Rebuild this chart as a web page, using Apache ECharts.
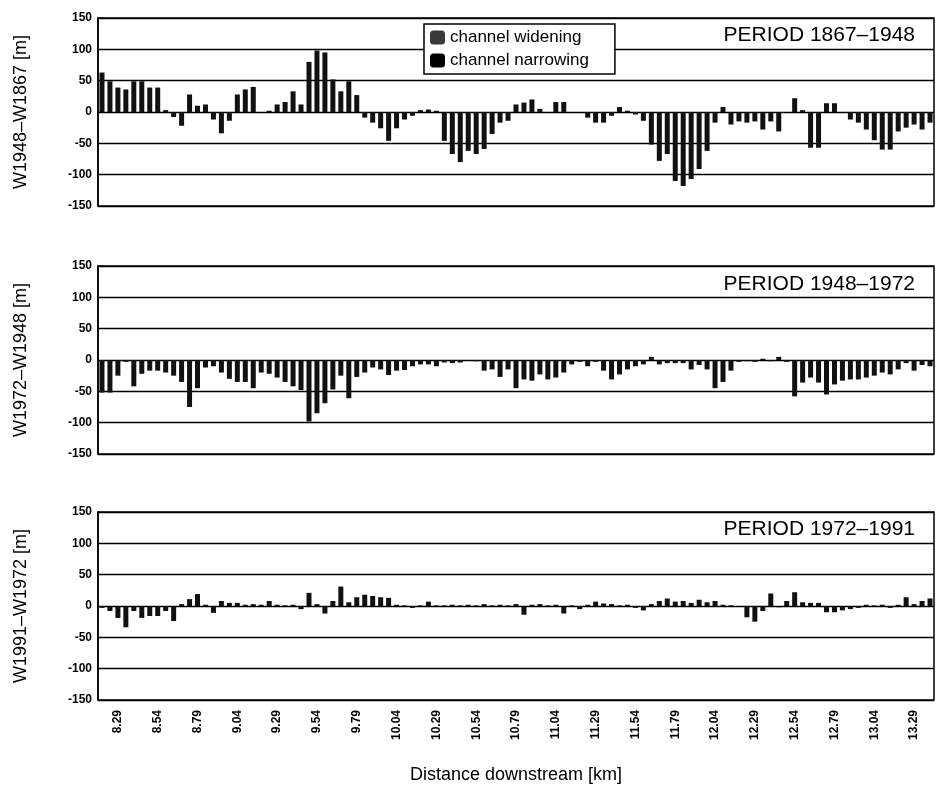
<!DOCTYPE html>
<html>
<head>
<meta charset="utf-8">
<script src="https://cdn.jsdelivr.net/npm/echarts@6/dist/echarts.min.js"></script>
<style>
html,body{margin:0;padding:0;background:#fff;}
#chart{width:940px;height:793px;}
</style>
</head>
<body>
<div id="chart"></div>
<script>
// Distance downstream [km], one bar every 0.05 km
const categories = ['8.19','8.24','8.29','8.34','8.39','8.44','8.49','8.54','8.59','8.64','8.69','8.74','8.79','8.84','8.89','8.94','8.99','9.04','9.09','9.14','9.19','9.24','9.29','9.34','9.39','9.44','9.49','9.54','9.59','9.64','9.69','9.74','9.79','9.84','9.89','9.94','9.99','10.04','10.09','10.14','10.19','10.24','10.29','10.34','10.39','10.44','10.49','10.54','10.59','10.64','10.69','10.74','10.79','10.84','10.89','10.94','10.99','11.04','11.09','11.14','11.19','11.24','11.29','11.34','11.39','11.44','11.49','11.54','11.59','11.64','11.69','11.74','11.79','11.84','11.89','11.94','11.99','12.04','12.09','12.14','12.19','12.24','12.29','12.34','12.39','12.44','12.49','12.54','12.59','12.64','12.69','12.74','12.79','12.84','12.89','12.94','12.99','13.04','13.09','13.14','13.19','13.24','13.29','13.34','13.39'];
const xTickLabels = ['8.29','8.54','8.79','9.04','9.29','9.54','9.79','10.04','10.29','10.54','10.79','11.04','11.29','11.54','11.79','12.04','12.29','12.54','12.79','13.04','13.29'];
const yTicks = [-150,-100,-50,0,50,100,150];

// W1948 - W1867 [m]
const diff1867_1948 = [63,49,39,36,49,49,39,39,3,-8,-22,28,10,12,-12,-34,-14,28,36,40,0,2,12,16,33,12,80,98,95,52,33,49,27,-9,-17,-26,-46,-26,-12,-6,3,4,2,-46,-67,-80,-62,-67,-59,-35,-17,-14,12,15,20,5,0,16,16,0,0,-9,-17,-17,-6,8,2,-4,-14,-52,-78,-67,-110,-118,-107,-91,-62,-17,8,-20,-15,-17,-15,-28,-15,-31,0,22,3,-57,-57,14,14,0,-12,-17,-28,-45,-60,-60,-31,-25,-20,-28,-17];
// W1972 - W1948 [m]
const diff1948_1972 = [-52,-52,-25,-3,-42,-22,-17,-17,-20,-25,-35,-75,-45,-12,-10,-20,-30,-35,-35,-45,-20,-22,-28,-35,-42,-48,-98,-85,-69,-47,-25,-61,-27,-20,-12,-15,-24,-17,-16,-10,-7,-7,-10,-4,-5,-4,-1,-2,-17,-15,-27,-15,-45,-31,-33,-23,-31,-28,-20,-7,-3,-10,-3,-17,-31,-23,-15,-10,-7,5,-7,-5,-5,-5,-15,-8,-15,-45,-35,-17,-3,-2,-3,2,-2,5,-3,-58,-36,-28,-36,-55,-39,-33,-31,-31,-28,-25,-20,-23,-15,-5,-17,-8,-10];
// W1991 - W1972 [m]
const diff1972_1991 = [-3,-8,-19,-34,-8,-19,-16,-16,-8,-24,3,11,19,2,-11,8,5,5,2,3,2,8,2,1,2,-5,21,3,-12,8,31,6,14,18,16,14,13,2,1,-3,1,7,1,1,2,1,2,1,3,1,2,1,3,-14,2,3,1,2,-12,1,-5,2,7,4,3,1,2,-3,-7,3,8,12,7,8,5,10,6,8,2,1,0,-18,-25,-8,20,-2,8,22,6,5,5,-10,-10,-7,-5,-3,2,1,2,-3,2,14,3,8,12];

const panelTitles = ['PERIOD 1867\u20131948','PERIOD 1948\u20131972','PERIOD 1972\u20131991'];
const yNames = ['W1948\u2013W1867 [m]','W1972\u2013W1948 [m]','W1991\u2013W1972 [m]'];
const seriesNames = ['channel widening','channel narrowing'];
const xName = 'Distance downstream [km]';

const panels = [diff1867_1948, diff1948_1972, diff1972_1991];
const FONT = 'Liberation Sans, Arial, Helvetica, sans-serif';
const gridTops = [18, 266, 512];
const gridH = 188;
const titleTops = [20, 269, 514];

const option = {
  backgroundColor: '#fff',
  animation: false,
  textStyle: {fontFamily: FONT, color: '#000'},
  title: panelTitles.map((t, i) => ({
    text: t, right: 20, top: titleTops[i],
    textStyle: {fontSize: 21, fontWeight: 'normal', color: '#000', fontFamily: FONT}
  })),
  legend: {
    orient: 'vertical', left: 424, top: 24,
    itemWidth: 15, itemHeight: 14, itemGap: 6,
    borderColor: '#000', borderWidth: 1.5, backgroundColor: '#fff',
    padding: [5, 26, 5, 6],
    textStyle: {fontSize: 17, color: '#000', fontFamily: FONT},
    data: [{name: seriesNames[0], itemStyle: {color: '#3a3a3a'}}, {name: seriesNames[1], itemStyle: {color: '#000'}}]
  },
  grid: gridTops.map(t => ({
    left: 98, right: 6, top: t, height: gridH,
    show: true, borderColor: '#000', borderWidth: 1.5, backgroundColor: 'transparent'
  })),
  xAxis: panels.map((p, i) => ({
    type: 'category', gridIndex: i, data: categories,
    axisLine: {show: false}, axisTick: {show: false},
    axisLabel: {
      show: i === 2, rotate: 90, fontSize: 12, fontWeight: 'bold', color: '#000', margin: 10,
      fontFamily: FONT,
      interval: (idx, val) => xTickLabels.indexOf(val) >= 0
    },
    name: i === 2 ? xName : '', nameLocation: 'middle', nameGap: 66,
    nameTextStyle: {fontSize: 18, color: '#000', fontFamily: FONT}
  })),
  yAxis: panels.map((p, i) => ({
    type: 'value', gridIndex: i, min: yTicks[0], max: yTicks[yTicks.length - 1], interval: 50,
    axisLine: {show: true, lineStyle: {color: '#000', width: 1.5}},
    axisTick: {show: false},
    splitLine: {show: true, lineStyle: {color: '#000', width: 1.3}},
    axisLabel: {fontSize: 12, fontWeight: 'bold', color: '#000', margin: 6, fontFamily: FONT},
    name: yNames[i], nameLocation: 'middle', nameRotate: 90, nameGap: 68,
    nameTextStyle: {fontSize: 18, color: '#000', fontFamily: FONT}
  })),
  series: panels.flatMap((p, i) => [
    {
      name: seriesNames[0], type: 'bar', xAxisIndex: i, yAxisIndex: i, stack: 'p' + i,
      barWidth: 5, itemStyle: {color: '#111'},
      data: p.map(v => v > 0 ? v : '-')
    },
    {
      name: seriesNames[1], type: 'bar', xAxisIndex: i, yAxisIndex: i, stack: 'p' + i,
      barWidth: 5, itemStyle: {color: '#111'},
      data: p.map(v => v <= 0 ? v : '-')
    }
  ])
};

const chart = echarts.init(document.getElementById('chart'), null, {renderer: 'canvas'});
chart.setOption(option);
</script>
</body>
</html>
